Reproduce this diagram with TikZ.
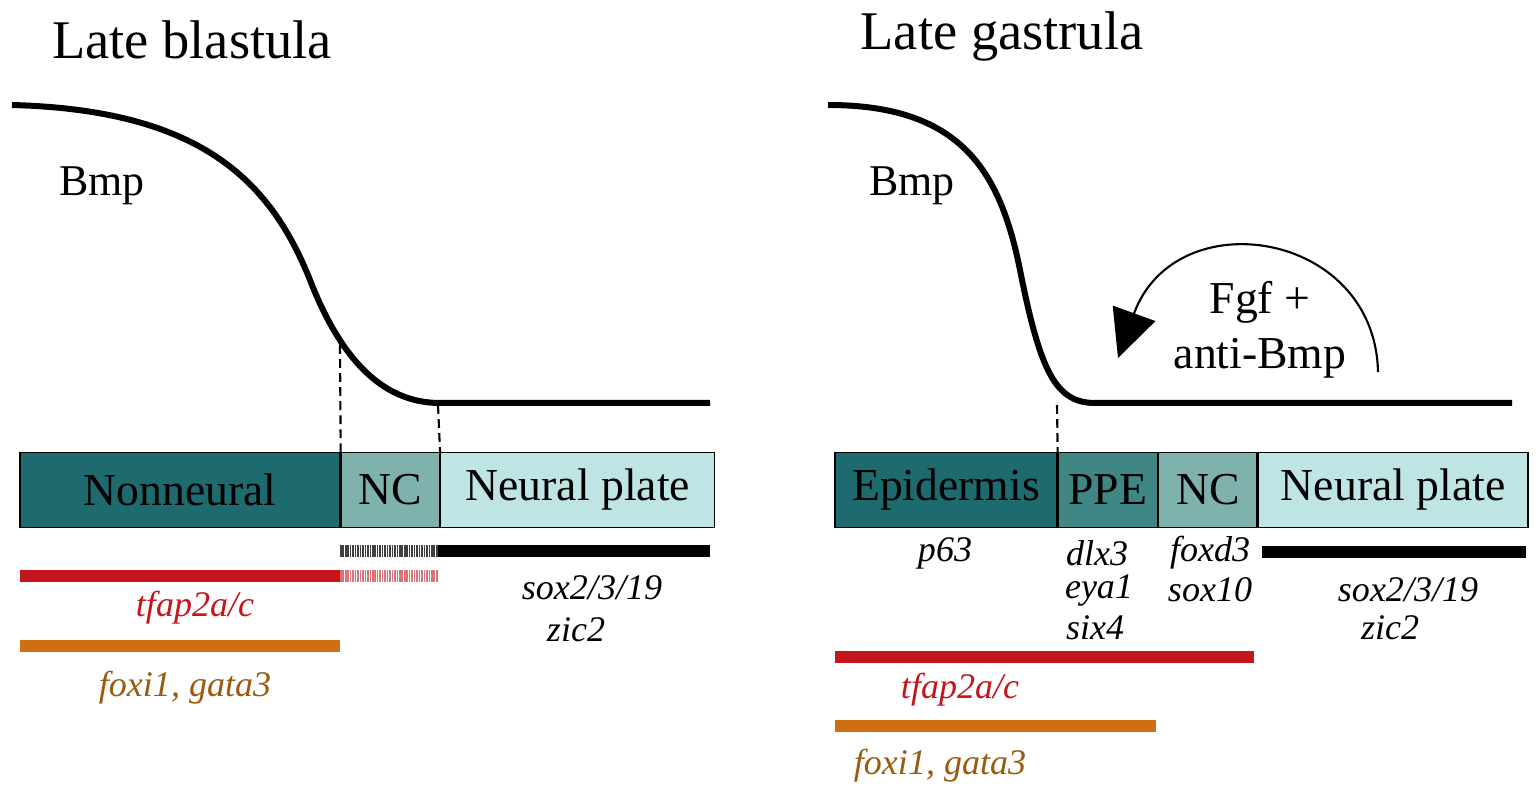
\documentclass[tikz,border=0pt]{standalone}
\usepackage{fontspec}
\setmainfont{Liberation Serif}
\usetikzlibrary{arrows.meta,positioning,calc,patterns}
\definecolor{nonneural}{HTML}{1E6B6F}
\definecolor{ppe}{HTML}{3F8684}
\definecolor{nc}{HTML}{7FB2AC}
\definecolor{neural}{HTML}{BFE4E4}
\definecolor{tfred}{HTML}{C4161C}
\definecolor{foxorange}{HTML}{D06F12}
\definecolor{foxtext}{HTML}{9A5A10}

\begin{document}
\begin{tikzpicture}[x=0.02cm, y=-0.02cm, semithick]
    \tikzset{
      title/.style={font=\fontsize{31}{33}\selectfont},
      bmp/.style={font=\fontsize{25}{27}\selectfont},
      zone/.style={draw=black, thick, minimum height=1.5cm, inner sep=0pt,
                   font=\fontsize{26}{28}\selectfont},
      gene/.style={font=\fontsize{20.5}{22}\selectfont\itshape, inner sep=0pt},
      curve/.style={line width=0.12cm},
      bar/.style={line width=0.24cm},
      hatch/.style={line width=0.24cm, dash pattern=on 0.9pt off 0.5pt},
      guide/.style={line width=1.2pt, dash pattern=on 5pt off 3pt}
    }
    \useasboundingbox (0,0) rectangle (1539,800);
    % left panel
    \node[title] (tL) at (192,40) {Late blastula};
    \node[bmp] (bL) at (102,186) {Bmp};
    \coordinate (cL0) at (12,105);
    \coordinate (cL1) at (440,403);
    \coordinate (cL2) at (710,403);
    \draw[curve] (cL0) .. controls (200,110) and (270,180) .. (310,280)
      .. controls (345,370) and (390,403) .. (cL1) -- (cL2);
    \node[zone, fill=nonneural, minimum width=6.4cm] (nnL) at (180,490) {Nonneural};
    \node[zone, fill=nc, minimum width=1.96cm, right=0pt of nnL] (ncL) {NC};
    \node[zone, fill=neural, minimum width=5.48cm, right=0pt of ncL] (npL) {Neural plate};
    \coordinate (dL1) at (340,345);
    \coordinate (dL2) at (438,405);
    \draw[guide] (dL1) -- (nnL.north east);
    \draw[guide] (dL2) -- (ncL.north east);
    \draw[hatch, black!75] (340,551) -- (438,551);
    \draw[bar] (438,551) -- (710,551);
    \draw[bar, tfred] (20,576) -- (340,576);
    \draw[hatch, tfred!60] (340,576) -- (438,576);
    \draw[bar, foxorange] (20,646) -- (340,646);
    \node[gene, tfred] (tfL) at (195,608) {tfap2a/c};
    \node[gene, foxtext] (fxL) at (185,688) {foxi1, gata3};
    \node[gene] (soxL) at (592,588) {sox2/3/19};
    \node[gene] (zicL) at (576,630) {zic2};
    % right panel
    \node[title] (tR) at (1002,36) {Late gastrula};
    \node[bmp] (bR) at (912,186) {Bmp};
    \coordinate (cR0) at (828,105);
    \coordinate (cR1) at (1095,403);
    \coordinate (cR2) at (1512,403);
    \draw[curve] (cR0) .. controls (960,105) and (1000,170) .. (1020,270)
      .. controls (1040,370) and (1055,403) .. (cR1) -- (cR2);
    \node[zone, fill=nonneural, minimum width=4.44cm] (epR) at (946,490) {Epidermis};
    \node[zone, fill=ppe, minimum width=1.98cm, right=0pt of epR] (ppR) {PPE};
    \node[zone, fill=nc, minimum width=1.96cm, right=0pt of ppR] (ncR) {NC};
    \node[zone, fill=neural, minimum width=5.4cm, right=0pt of ncR] (npR) {Neural plate};
    \coordinate (dR1) at (1057,405);
    \draw[guide] (dR1) -- (epR.north east);
    \draw[bar] (1262,552) -- (1526,552);
    \draw[bar, tfred] (835,657) -- (1254,657);
    \draw[bar, foxorange] (835,726) -- (1156,726);
    \node[gene] (p63) at (945,553) {p63};
    \node[gene] (dlx) at (1097,553) {dlx3};
    \node[gene] (eya) at (1099,590) {eya1};
    \node[gene] (six) at (1095,628) {six4};
    \node[gene] (fox) at (1210,553) {foxd3};
    \node[gene] (s10) at (1210,590) {sox10};
    \node[gene] (soxR) at (1408,590) {sox2/3/19};
    \node[gene] (zicR) at (1390,628) {zic2};
    \node[gene, tfred] (tfR) at (960,690) {tfap2a/c};
    \node[gene, foxtext] (fxR) at (940,766) {foxi1, gata3};
    \node[bmp, align=center, font=\fontsize{26}{31}\selectfont] (fgf) at (1260,330) {Fgf +\\anti-Bmp};
    \coordinate (aS) at (1378,372);
    \coordinate (aE) at (1118,358);
    \draw[line width=1.2pt, -{Triangle[length=0.95cm, width=0.9cm]}] (aS)
      .. controls (1375,230) and (1175,200) .. (aE);
\end{tikzpicture}
\end{document}
